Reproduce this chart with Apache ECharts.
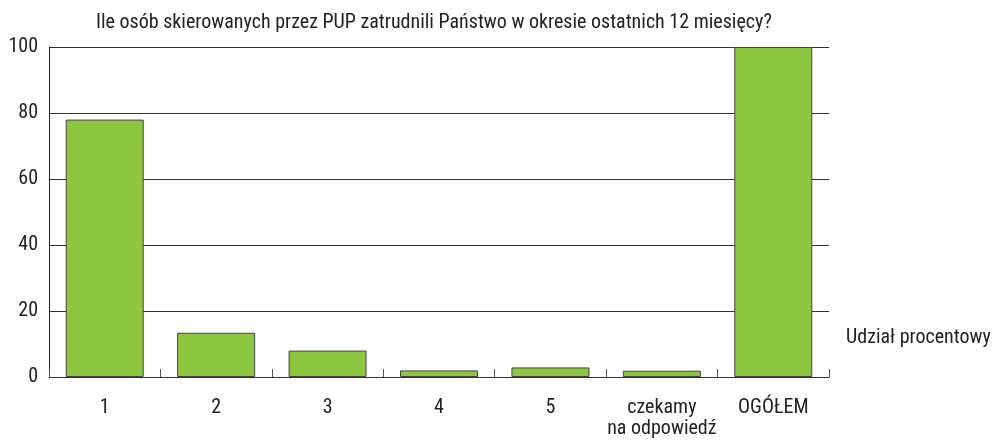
<!DOCTYPE html>
<html>
<head>
<meta charset="utf-8">
<script src="https://cdn.jsdelivr.net/npm/echarts@6/dist/echarts.min.js"></script>
<style>
html,body{margin:0;padding:0;background:#fff;}
#my_chart{width:995px;height:442px;}
</style>
</head>
<body>
<div id="my_chart"></div>
<script>
//kategorie
var categories = ['1', '2', '3', '4', '5', 'czekamy\nna odpowiedź', 'OGÓŁEM'];
//wartości (%)
var values = [78, 13.4, 8, 2, 2.9, 1.9, 100];
var yTicks = [0, 20, 40, 60, 80, 100];

var font = '"Roboto Condensed", "Liberation Sans Narrow", sans-serif';

var myChart = echarts.init(document.getElementById('my_chart'));
var option = {
    animation: false,
    backgroundColor: '#fff',
    title: {
        text: 'Ile osób skierowanych przez PUP zatrudnili Państwo w okresie ostatnich 12 miesięcy?',
        left: 91,
        top: 8,
        textStyle: {
            color: '#222',
            fontWeight: 'normal',
            fontFamily: font,
            fontSize: 20
        }
    },
    legend: {
        data: ['Udział procentowy'],
        left: 835,
        top: 323,
        itemWidth: 0,
        itemHeight: 0,
        textStyle: {
            color: '#222',
            fontFamily: font,
            fontSize: 20
        }
    },
    grid: {
        left: 49,
        right: 166,
        top: 47,
        bottom: 65,
        containLabel: false
    },
    xAxis: [{
        type: 'category',
        data: categories,
        axisLine: {lineStyle: {color: '#333', width: 1}},
        axisTick: {
            show: true,
            inside: true,
            length: 8,
            lineStyle: {color: '#555'}
        },
        axisLabel: {
            color: '#222',
            fontFamily: font,
            fontSize: 20,
            margin: 20,
            lineHeight: 21,
            interval: 0
        },
        splitLine: {show: false}
    }],
    yAxis: [{
        type: 'value',
        min: yTicks[0],
        max: yTicks[yTicks.length - 1],
        interval: 20,
        axisLine: {show: true, lineStyle: {color: '#222', width: 1}},
        axisTick: {show: false},
        axisLabel: {
            color: '#222',
            fontFamily: font,
            fontSize: 20,
            margin: 11,
            padding: [10, 0, 0, 0]
        },
        splitLine: {lineStyle: {color: '#333', width: 1}}
    }],
    series: [{
        name: 'Udział procentowy',
        type: 'bar',
        barWidth: 78,
        data: values,
        itemStyle: {
            color: '#8dc63f',
            borderColor: '#444',
            borderWidth: 1
        }
    }]
};
myChart.setOption(option);
</script>
</body>
</html>
